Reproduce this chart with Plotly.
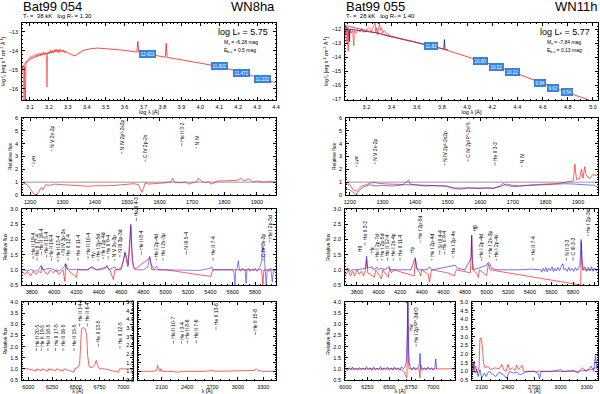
import plotly.graph_objects as go

# ---------------- Bat99 054 (left column) ----------------
sed_l_obs_x = [3.058, 3.062, 3.066, 3.069, 3.072, 3.076, 3.079, 3.083, 3.088, 3.093, 3.098, 3.103, 3.108,
               3.113, 3.118, 3.123, 3.128, 3.133, 3.138, 3.143, 3.148, 3.153, 3.158, 3.163, 3.168, 3.173,
               3.178, 3.183, 3.187, 3.190, 3.193, 3.198, 3.203, 3.208, 3.213, 3.218, 3.223, 3.228, 3.233,
               3.238, 3.243, 3.248, 3.253, 3.258, 3.263, 3.268, 3.273, 3.278, 3.283, 3.288]
sed_l_obs_y = [-15.1, -14.8, -15.4, -16.6, -14.8, -16.6, -14.6, -14.55, -14.45, -14.4, -14.42, -14.3, -14.35,
               -14.25, -14.3, -14.2, -14.25, -14.15, -14.3, -14.15, -14.2, -14.1, -14.25, -14.1, -14.15, -14.05,
               -14.2, -14.1, -14.3, -15.9, -14.1, -14.05, -14.15, -13.95, -14.1, -14.0, -14.1, -13.92, -14.05,
               -13.9, -14.05, -13.95, -14.1, -13.9, -14.0, -14.05, -13.95, -14.0, -14.1, -14.0]
sed_l_mod_x = [3.058, 3.07, 3.10, 3.13, 3.16, 3.20, 3.24, 3.28, 3.30, 3.32, 3.34, 3.36, 3.38, 3.42, 3.46,
               3.50, 3.55, 3.60, 3.65, 3.665, 3.67, 3.675, 3.70, 3.75, 3.80, 3.815, 3.82, 3.825, 3.85,
               3.90, 3.95, 4.00, 4.10, 4.20, 4.30, 4.40]
sed_l_mod_y = [-14.95, -14.7, -14.45, -14.3, -14.2, -14.1, -14.0, -14.0, -14.1, -14.2, -14.25, -14.1, -13.98,
               -13.88, -13.85, -13.88, -13.92, -13.97, -14.04, -14.06, -13.5, -14.07, -14.12, -14.2, -14.3,
               -14.33, -13.6, -14.34, -14.38, -14.47, -14.55, -14.63, -14.82, -15.08, -15.37, -15.68]
phot_l_x = [3.72, 4.10, 4.22, 4.33]
phot_l_y = [-14.16, -14.79, -15.14, -15.49]
phot_l_txt = ["12.423", "11.802", "11.472", "11.232"]

uv_l_x = [1175, 1185, 1195, 1205, 1212, 1220, 1228, 1235, 1240, 1248, 1260, 1275, 1290, 1300, 1320, 1340,
          1360, 1380, 1400, 1420, 1440, 1460, 1480, 1500, 1520, 1535, 1540, 1545, 1550, 1555, 1565, 1580,
          1600, 1620, 1635, 1640, 1645, 1660, 1680, 1690, 1700, 1715, 1720, 1728, 1740, 1750, 1760, 1780,
          1800, 1820, 1840, 1850, 1860, 1875, 1890, 1900, 1920, 1940, 1959]
uv_l_y = [0.8, 0.9, 0.7, 0.3, 0.05, 0.0, 0.3, 0.6, 0.4, 0.8, 0.75, 0.85, 0.82, 0.8, 0.78, 0.75,
          0.7, 0.68, 0.72, 0.7, 0.72, 0.75, 0.8, 0.82, 0.88, 0.8, 0.55, 0.2, 0.5, 0.95, 0.85, 0.9,
          0.92, 0.95, 1.05, 1.3, 1.0, 0.95, 1.0, 0.85, 0.95, 1.05, 1.3, 1.1, 0.95, 1.05, 0.85, 1.1,
          1.1, 1.1, 1.15, 1.3, 1.1, 1.25, 1.0, 1.1, 1.0, 1.05, 1.0]
uv_l_lab_x = [1209, 1267, 1483, 1555, 1668, 1714]
uv_l_lab_t = ["Lyα", "N V 2s-2p", "N IV 2p²-2s2p", "C IV 2p-2s", "He II 3-2", "N IV"]
uv_l_lab_y = [2.2, 3.4, 3.2, 2.6, 3.8, 3.6]

opt_l_mod_x = [3712, 3740, 3760, 3790, 3810, 3840, 3860, 3880, 3890, 3910, 3940, 3965, 3990, 4020, 4040,
               4080, 4095, 4105, 4120, 4200, 4210, 4300, 4340, 4380, 4470, 4500, 4530, 4545, 4600, 4635,
               4660, 4686, 4700, 4720, 4859, 4875, 5000, 5405, 5420, 5860, 5870, 5880, 5988]
opt_l_mod_y = [0.95, 0.85, 0.95, 0.8, 0.95, 0.85, 0.95, 0.9, 1.1, 0.95, 0.85, 1.0, 0.9, 1.0, 0.85,
               1.0, 0.62, 1.2, 1.0, 0.75, 1.0, 1.0, 1.1, 1.0, 1.1, 1.0, 0.68, 1.0, 1.0, 1.55,
               1.1, 2.45, 1.3, 1.0, 1.4, 1.0, 1.0, 0.78, 1.0, 1.0, 0.5, 1.0, 1.0]
opt_l_obs_x = [3712, 3750, 3800, 3830, 3860, 3885, 3895, 3930, 3970, 4000, 4030, 4060, 4090, 4100, 4110,
               4150, 4200, 4250, 4300, 4335, 4345, 4380, 4420, 4460, 4475, 4490, 4520, 4545, 4560, 4600,
               4620, 4635, 4650, 4665, 4678, 4688, 4698, 4710, 4740, 4800, 4840, 4855, 4868, 4890, 4920,
               4935, 5000, 5100, 5200, 5300, 5400, 5412, 5425, 5500, 5600, 5612, 5620, 5628, 5640, 5650,
               5660, 5672, 5685, 5700, 5712, 5720, 5728, 5740, 5755, 5770, 5785, 5800, 5815, 5830, 5845,
               5860, 5870, 5880, 5890, 5900, 5910, 5925, 5940, 5955, 5965, 5980, 5988]
opt_l_obs_y = [1.0, 0.98, 1.0, 0.95, 1.0, 1.15, 1.0, 1.02, 1.05, 1.0, 0.95, 1.0, 1.1, 1.2, 1.05,
               1.0, 1.02, 1.0, 1.0, 1.1, 1.05, 1.0, 1.0, 1.05, 1.15, 1.0, 1.05, 1.1, 1.0, 1.05,
               1.3, 1.6, 1.4, 1.15, 1.8, 2.5, 1.6, 1.1, 1.0, 1.0, 1.1, 1.45, 1.2, 1.02, 1.12,
               1.0, 1.0, 1.0, 1.0, 0.98, 1.05, 1.1, 1.0, 1.0, 1.0, 0.9, 0.5, 1.0, 1.05, 1.3,
               1.0, 0.95, 1.05, 0.98, 1.0, 0.55, 1.0, 1.05, 0.95, 1.02, 0.97, 1.05, 0.95, 1.0, 1.1,
               1.3, 1.8, 1.6, 1.0, 0.5, 1.0, 0.95, 1.05, 0.6, 1.0, 0.95, 1.0]
opt_l_lab_x = [3811, 3847, 3886, 3931, 3976, 4035, 4080, 4125, 4214, 4304, 4349, 4394, 4439, 4484,
               4544, 4589, 4737, 4782, 4916, 4976, 5185, 5424, 5872, 5932]
opt_l_lab_t = ["He II 19-4", "He II 17-4", "He II 16-4", "He II 15-4", "He II 14-4", "He II 13-4",
               "N IV 3p-3s", "He II 12-4", "He II 11-4", "He II 10-4", "Hγ", "He I 2p-5d", "He I 2p-4d",
               "He II 9-4", "N V 3s-3p", "N III 3p-3d", "He II 4-3", "He II 8-4", "He I 2p-4d",
               "He I 2s-3p", "N III 5-4", "He II 7-4", "C IV 3s-3p", "He I 2p-3d"]
opt_l_lab_y = [1.35, 1.3, 1.5, 1.4, 1.3, 1.25, 1.45, 1.3, 1.3, 1.35, 1.3, 1.3, 1.35, 1.35,
               1.3, 1.4, 2.6, 1.5, 1.3, 1.3, 1.5, 1.3, 1.3, 1.9]

bla_x = [5934, 6000, 6084, 6090, 6137, 6145, 6207, 6215, 6287, 6295, 6365, 6375, 6481, 6490, 6520,
         6540, 6550, 6560, 6580, 6600, 6615, 6625, 6640, 6670, 6700, 6715, 6730, 6750, 6800, 6950,
         6960, 7102]
bla_y = [1.0, 1.0, 0.9, 1.0, 0.92, 1.0, 0.9, 1.0, 0.92, 1.0, 0.9, 1.0, 0.85, 1.02, 1.05,
         1.2, 2.0, 2.8, 2.85, 2.8, 2.5, 1.6, 1.1, 1.05, 1.2, 1.38, 1.15, 1.0, 1.0, 0.85,
         1.0, 1.0]
bla_lab_x = [6084, 6137, 6207, 6287, 6365, 6481, 6540, 6621, 6737, 6965]
bla_lab_t = ["He II 20-5", "He II 19-5", "He II 18-5", "He II 17-5", "He II 16-5", "He II 15-5",
             "He II 14-5", "He II 6-4", "He II 13-5", "He II 12-5"]
bla_lab_y = [1.8, 1.8, 1.8, 1.8, 1.8, 1.8, 2.9, 2.9, 2.0, 1.9]

blb_x = [1820, 1900, 2000, 2040, 2050, 2060, 2068, 2080, 2090, 2100, 2200, 2300, 2320, 2600, 2710,
         2720, 3190, 3220, 3240, 3300, 3450]
blb_y = [1.0, 1.0, 1.0, 1.05, 1.35, 1.2, 1.1, 1.0, 1.15, 1.0, 1.0, 0.95, 1.0, 1.0, 1.05,
         1.0, 1.05, 1.15, 1.05, 1.0, 1.0]
blb_lab_x = [2240, 2333, 2403, 2508, 2741, 3207]
blb_lab_t = ["He II 10-7", "He I 3-4", "He II 8-6", "He II 7-6", "He II 13-8", "He II 15-8"]
blb_lab_y = [2.6, 2.6, 2.6, 2.6, 3.4, 3.1]

# ---------------- Bat99 055 (right column) ----------------
sed_r_obs_x = [3.030, 3.035, 3.040, 3.045, 3.050, 3.055, 3.060, 3.065, 3.070, 3.080, 3.090, 3.100, 3.105,
               3.120, 3.130, 3.150, 3.160, 3.180, 3.200, 3.220, 3.240, 3.260, 3.270, 3.275, 3.280, 3.290,
               3.300, 3.305, 3.310, 3.320, 3.330, 3.340, 3.360, 3.380, 3.400, 3.420]
sed_r_obs_y = [-11.9, -12.4, -11.9, -13.0, -12.0, -13.6, -12.1, -12.6, -12.0, -12.3, -12.1, -13.2, -12.1,
               -12.3, -12.05, -12.2, -11.95, -12.25, -12.05, -11.9, -12.15, -11.8, -11.55, -12.2, -11.9, -12.4,
               -11.95, -11.55, -12.1, -11.9, -12.3, -12.1, -12.35, -12.4, -12.55, -12.5]
sed_r_nav_x = [3.03, 3.06, 3.065, 3.07, 3.10, 3.15, 3.20, 3.25, 3.30, 3.35, 3.40, 3.45, 3.50, 3.55, 3.60,
               3.65, 3.70, 3.75, 3.80, 3.815, 3.82, 3.825, 3.85]
sed_r_nav_y = [-11.85, -11.95, -12.9, -12.0, -12.05, -12.1, -12.15, -12.2, -12.3, -12.45, -12.55, -12.65,
               -12.75, -12.85, -12.95, -13.05, -13.2, -13.3, -13.4, -13.45, -12.75, -13.45, -13.5]
sed_r_mod_x = [3.03, 3.2, 3.4, 3.6, 3.8, 4.0, 4.2, 4.4, 4.6, 4.8, 4.97]
sed_r_mod_y = [-11.75, -12.1, -12.55, -12.95, -13.4, -13.95, -14.55, -15.2, -15.9, -16.55, -17.07]
phot_r_x = [3.716, 4.11, 4.23, 4.36, 4.58, 4.68, 4.79]
phot_r_y = [-13.19, -14.26, -14.69, -15.09, -15.84, -16.19, -16.52]
phot_r_txt = ["11.82", "10.80", "10.52", "10.22", "9.84", "9.62", "9.54"]

uv_r_x = [1188, 1200, 1210, 1220, 1235, 1250, 1270, 1290, 1320, 1350, 1380, 1400, 1450, 1480, 1500,
          1520, 1550, 1580, 1600, 1620, 1640, 1660, 1680, 1700, 1720, 1750, 1780, 1800, 1840, 1870,
          1885, 1890, 1895, 1905, 1910, 1915, 1920, 1925, 1935, 1945, 1955, 1961]
uv_r_y = [0.9, 0.8, 0.4, 0.3, 0.7, 0.8, 1.0, 0.9, 0.85, 0.82, 0.78, 0.75, 0.72, 0.7, 0.7,
          0.55, 0.55, 0.6, 0.55, 0.6, 0.55, 0.65, 0.85, 0.75, 0.7, 0.78, 0.8, 0.85, 0.9, 1.0,
          1.1, 2.4, 1.2, 1.3, 2.0, 1.3, 2.2, 1.5, 1.3, 1.6, 1.5, 1.6]
uv_r_bx = [1188, 1200, 1210, 1220, 1230, 1240, 1260, 1280, 1300, 1330, 1360, 1380, 1385, 1400, 1430,
           1460, 1490, 1520, 1540, 1560, 1580, 1600, 1620, 1640, 1660, 1670, 1680, 1700, 1720, 1750,
           1780, 1800, 1830, 1860, 1890, 1920, 1950, 1961]
uv_r_by = [0.5, 0.4, 0.2, 0.05, 0.4, 0.6, 0.8, 0.7, 0.75, 0.7, 0.78, 1.15, 0.85, 0.8, 0.7,
           0.72, 0.7, 0.5, 0.45, 0.55, 0.5, 0.5, 0.55, 0.5, 0.7, 0.9, 0.75, 0.65, 0.7, 0.75,
           0.8, 0.82, 0.85, 0.88, 0.85, 0.8, 0.75, 0.6]
uv_r_lab_x = [1220, 1277, 1491, 1562, 1645, 1727]
uv_r_lab_t = ["Lyα", "N V 2s-2p", "N IV 2p²-2s2p", "C IV 2p²P°-2s²S", "He II 3-2", "N IV"]
uv_r_lab_y = [2.2, 2.4, 2.3, 2.6, 2.3, 2.2]

opt_r_mod_x = [3690, 3700, 3720, 3740, 3760, 3780, 3800, 3820, 3840, 3860, 3880, 3890, 3900, 3930, 3960,
               3975, 4010, 4026, 4040, 4090, 4102, 4120, 4140, 4330, 4340, 4360, 4380, 4390, 4400, 4460,
               4471, 4490, 4640, 4700, 4720, 4850, 4861, 4870, 4915, 4922, 4935, 5000, 5016, 5030, 5870,
               5876, 5885, 6030]
opt_r_mod_y = [0.95, 0.85, 1.0, 0.8, 0.95, 0.8, 1.0, 0.85, 0.95, 0.8, 1.0, 1.35, 0.9, 0.85, 0.75,
               1.0, 0.8, 0.7, 1.0, 0.75, 1.05, 0.9, 1.0, 0.8, 1.35, 1.0, 0.9, 0.8, 1.0, 0.85,
               0.6, 1.0, 0.9, 0.8, 1.0, 0.9, 2.1, 1.0, 0.85, 0.75, 1.0, 0.8, 1.2, 1.0, 0.5,
               1.9, 1.0, 1.0]
opt_r_obs_x = [3690, 3720, 3740, 3760, 3800, 3850, 3880, 3890, 3898, 3940, 3950, 3990, 4000, 4030, 4060,
               4090, 4100, 4110, 4200, 4300, 4340, 4350, 4380, 4450, 4470, 4480, 4500, 4640, 4710, 4730,
               4800, 4858, 4862, 4868, 4880, 4920, 5000, 5016, 5030, 5045, 5100, 5300, 5411, 5500, 5510,
               5522, 5535, 5548, 5560, 5575, 5590, 5605, 5618, 5632, 5645, 5660, 5675, 5690, 5705, 5715,
               5730, 5745, 5760, 5775, 5790, 5805, 5820, 5835, 5850, 5862, 5874, 5882, 5895, 5910, 5925,
               5940, 5955, 5970, 5985, 6000, 6015, 6030]
opt_r_obs_y = [1.0, 1.05, 0.95, 1.0, 1.0, 1.02, 1.05, 1.45, 1.05, 1.1, 1.0, 1.08, 1.0, 1.05, 1.0,
               1.08, 1.1, 1.0, 1.0, 1.0, 1.4, 1.05, 1.0, 1.0, 1.1, 1.05, 1.0, 1.1, 1.15, 1.05,
               1.0, 1.4, 2.15, 1.3, 1.0, 1.05, 1.15, 1.25, 1.2, 1.05, 1.0, 1.0, 1.02, 1.0, 0.92,
               1.05, 0.95, 1.08, 0.93, 1.05, 0.97, 1.1, 0.94, 1.05, 0.96, 1.08, 0.97, 1.1, 1.2, 1.0,
               1.05, 0.95, 1.08, 0.97, 1.05, 0.95, 1.07, 0.98, 1.08, 1.1, 2.0, 1.3, 1.0, 1.1, 0.95,
               1.08, 0.96, 1.1, 0.95, 1.05, 0.97, 1.05]
opt_r_lab_x = [3829, 3875, 3937, 3989, 4030, 4082, 4137, 4199, 4308, 4385, 4493, 4566, 4612, 4689,
               4890, 4952, 5028, 5090, 5429, 5737, 5799, 5938]
opt_r_lab_t = ["H9", "He II 3-2", "Hε", "He I 2p-7d", "He I 2p-5d", "He II 12-4", "He I 2s-4p",
               "He II 11-4", "Hγ", "He I 2p-5d", "He I 2p-4d", "Si III 4-4", "He II 9-4", "He I 2p-4s",
               "Hβ", "He I 2p-4d", "He I 2s-3p", "He I 2p-4s", "He II 7-4", "N II 3-3", "C III 3-3",
               "He I 2p-3d"]
opt_r_lab_y = [1.5, 1.8, 1.5, 1.3, 1.3, 1.3, 1.3, 1.3, 1.5, 1.9, 1.3, 1.5, 1.5, 1.4,
               2.2, 1.3, 1.4, 1.3, 1.3, 1.3, 1.3, 2.1]

bra_bx = [6000, 6020, 6040, 6060, 6080, 6100, 6120, 6140, 6160, 6180, 6200, 6220, 6240, 6260, 6280,
          6300, 6320, 6340, 6360, 6380, 6400, 6420, 6440, 6460, 6480, 6500, 6520, 6540, 6560, 6580,
          6600, 6620, 6640, 6660, 6680, 6695, 6705, 6712, 6720, 6730, 6745, 6760, 6780, 6800, 6820,
          6840, 6852, 6860, 6880, 6900, 6920, 6940, 6960, 6980, 7000, 7020, 7030, 7040]
bra_by = [1.0, 0.92, 1.05, 0.95, 1.08, 0.94, 1.03, 0.93, 1.06, 0.96, 1.05, 0.95, 1.1, 0.97, 1.05,
          0.93, 1.08, 0.95, 1.04, 0.96, 1.1, 0.94, 1.05, 0.97, 1.08, 0.95, 1.05, 0.94, 1.08, 0.96,
          1.05, 0.95, 1.1, 1.0, 1.1, 1.3, 2.6, 4.2, 2.0, 1.2, 1.05, 0.95, 1.08, 0.96, 1.05,
          1.1, 1.7, 1.0, 0.95, 1.05, 0.95, 1.08, 0.97, 1.05, 0.95, 1.05, 1.45, 1.0]
bra_rx = [6000, 6600, 6650, 6670, 6690, 6700, 6706, 6712, 6718, 6725, 6760, 6840, 6850, 6858, 6870, 7250]
bra_ry = [1.0, 1.0, 0.95, 0.85, 0.65, 0.6, 1.5, 4.2, 1.5, 1.0, 1.0, 1.0, 0.6, 1.2, 1.0, 1.0]
bra_lab_x = [6750, 6807]
bra_lab_t = ["Hα", "He I 2p³P°-3d³D"]
bra_lab_y = [2.6, 2.0]

brb_rx = [1989, 2000, 2010, 2030, 2050, 2070, 2080, 2095, 2110, 2120, 2140, 2170, 2200, 2250, 2300,
          2330, 2350, 2380, 2400, 2420, 2450, 2480, 2500, 2520, 2560, 2580, 2700, 2900, 3000, 3020,
          3200, 3300, 3350, 3400, 3429]
brb_ry = [1.0, 1.5, 1.1, 1.3, 0.9, 1.3, 2.9, 2.9, 2.3, 1.5, 1.2, 1.3, 1.1, 1.2, 1.15,
          1.4, 1.1, 1.0, 1.4, 1.1, 1.2, 1.05, 1.35, 1.1, 1.35, 1.0, 1.0, 1.0, 1.1, 1.0,
          1.0, 1.05, 1.1, 1.2, 1.1]
brb_bx = [1989, 2000, 2015, 2025, 2040, 2060, 2080, 2100, 2130, 2150, 2180, 2220, 2260, 2300, 2350,
          2380, 2420, 2460, 2500, 2540, 2600, 2650, 2700, 2750, 2760, 2780, 2850, 2950, 3050, 3150,
          3200, 3250, 3300, 3350, 3380, 3400, 3415, 3429]
brb_by = [0.8, 1.0, 1.6, 0.9, 1.1, 0.7, 1.1, 0.6, 0.9, 0.7, 1.0, 0.85, 0.7, 0.95, 0.8,
          0.6, 1.0, 0.9, 0.95, 0.8, 0.95, 1.0, 1.0, 0.85, 0.55, 1.0, 1.0, 0.98, 1.0, 1.05,
          0.9, 1.2, 1.0, 1.3, 1.0, 1.9, 1.2, 1.4]

# ---------------- figure ----------------
W, H = 600, 394
FONT = "Liberation Sans, Arial, sans-serif"
RED = "#ff1a1a"
BLUE = "#1010ee"


def dom_x(a, b):
    return [a / W, b / W]


def dom_y(top, bot):
    return [1 - bot / H, 1 - top / H]


fig = go.Figure()


def set_axes(n, xd, yd, xr, yr, xdt, ydt, xtitle=None, ytitle=None, xfmt=None, yfmt=None, xtv=None):
    s = "" if n == 1 else str(n)
    common = dict(showline=True, linecolor="black", linewidth=0.8, mirror="allticks", ticks="inside",
                  ticklen=3, tickwidth=0.6, tickcolor="black", showgrid=False, zeroline=False,
                  automargin=False, tickfont=dict(size=5.5, color="black", family=FONT),
                  minor=dict(ticks="inside", ticklen=1.5, tickwidth=0.5, tickcolor="black"))
    xa = dict(common, domain=xd, range=xr, anchor="y" + s, ticklabelstandoff=1)
    if xtv is not None:
        xa.update(tickvals=xtv)
    else:
        xa.update(dtick=xdt)
    if xfmt:
        xa["tickformat"] = xfmt
    if xtitle:
        xa["title"] = dict(text=xtitle, font=dict(size=5.5, family=FONT), standoff=0)
    ya = dict(common, domain=yd, range=yr, dtick=ydt, anchor="x" + s, ticklabelstandoff=2)
    if yfmt:
        ya["tickformat"] = yfmt
    if ytitle:
        ya["title"] = dict(text=ytitle, font=dict(size=5, family=FONT), standoff=2)
    fig.layout["xaxis" + s] = xa
    fig.layout["yaxis" + s] = ya


def line(n, x, y, color, width=0.7, opacity=1.0):
    s = "" if n == 1 else str(n)
    fig.add_trace(go.Scatter(x=x, y=y, mode="lines", line=dict(color=color, width=width),
                             opacity=opacity, xaxis="x" + s, yaxis="y" + s, showlegend=False,
                             hoverinfo="skip"))


def unity(n):
    s = "" if n == 1 else str(n)
    fig.add_shape(type="line", xref="x" + s + " domain", yref="y" + s, x0=0, x1=1, y0=1, y1=1,
                  line=dict(color="#555555", width=0.6))


def vlabels(n, xs, texts, ys, size=5, gap=3):
    s = "" if n == 1 else str(n)
    for x, t, y in zip(xs, texts, ys):
        L = len(t) * size * 0.5
        fig.add_annotation(x=x, y=y, xref="x" + s, yref="y" + s, text=t, textangle=-90,
                           showarrow=True, arrowhead=0, arrowwidth=0.5, arrowcolor="black",
                           ax=0, ay=-(L / 2 + gap), font=dict(size=size, color="black", family=FONT))


def phot(n, xs, ys, texts):
    s = "" if n == 1 else str(n)
    for x, y, t in zip(xs, ys, texts):
        fig.add_annotation(x=x, y=y, xref="x" + s, yref="y" + s, text=t, showarrow=False,
                           bgcolor="#2f86e8", bordercolor="#1a5fc0", borderwidth=0.5, borderpad=1,
                           font=dict(size=4.5, color="white", family=FONT))


LAM_LOG = "log λ [Å]"
LAM = "λ [Å]"
FLUX = "log f<sub>λ</sub> [erg s<sup>-1</sup> cm<sup>-2</sup> Å<sup>-1</sup>]"
REL = "Relative flux"
TV_IR = [2100, 2400, 2700, 3000, 3300]
TV_HA = [6000, 6250, 6500, 6750, 7000]

# axes: 1-5 left column, 6-10 right column
set_axes(1, dom_x(22, 276), dom_y(23, 100), [3.058, 4.4], [-16.58, -12.53], 0.1, 1, LAM_LOG, FLUX, ".1f")
set_axes(2, dom_x(22, 276), dom_y(118, 195), [1175, 1959], [0, 6], 100, 1, None, REL)
set_axes(3, dom_x(22, 276), dom_y(209, 285), [3712, 5988], [0.5, 3.0], 200, 0.5, None, REL, None, ".1f")
set_axes(4, dom_x(22, 133), dom_y(302, 380), [5934, 7102], [0.5, 4.0], None, 0.5, LAM, REL, None, ".1f",
         xtv=TV_HA)
set_axes(5, dom_x(138, 276), dom_y(302, 380), [1820, 3450], [0.5, 5.0], None, 0.5, LAM, None, None, ".1f",
         xtv=TV_IR)
set_axes(6, dom_x(345, 598), dom_y(23, 100), [3.03, 5.04], [-17.07, -11.57], 0.2, 1, LAM_LOG, FLUX, ".1f")
set_axes(7, dom_x(346, 598), dom_y(118, 195), [1188, 1961], [0, 6], 100, 1, None, REL)
set_axes(8, dom_x(345, 598), dom_y(209, 285), [3690, 6030], [0.5, 3.0], 200, 0.5, None, REL, None, ".1f")
set_axes(9, dom_x(345, 455), dom_y(302, 380), [5995, 7250], [0.5, 4.0], None, 0.5, LAM, REL, None, ".1f",
         xtv=TV_HA)
set_axes(10, dom_x(472, 598), dom_y(302, 380), [1989, 3429], [0.5, 5.0], None, 0.5, LAM, None, None, ".1f",
         xtv=TV_IR)

# left column traces
line(1, sed_l_obs_x, sed_l_obs_y, RED, 0.6)
line(1, sed_l_mod_x, sed_l_mod_y, RED, 0.8)
phot(1, phot_l_x, phot_l_y, phot_l_txt)
unity(2)
line(2, uv_l_x, uv_l_y, RED)
vlabels(2, uv_l_lab_x, uv_l_lab_t, uv_l_lab_y)
line(3, opt_l_mod_x, opt_l_mod_y, RED)
line(3, opt_l_obs_x, opt_l_obs_y, BLUE, 0.7, 0.75)
vlabels(3, opt_l_lab_x, opt_l_lab_t, opt_l_lab_y)
line(4, bla_x, bla_y, RED)
vlabels(4, bla_lab_x, bla_lab_t, bla_lab_y)
line(5, blb_x, blb_y, RED)
vlabels(5, blb_lab_x, blb_lab_t, blb_lab_y)

# right column traces
line(6, sed_r_obs_x, sed_r_obs_y, RED, 0.6)
line(6, sed_r_nav_x, sed_r_nav_y, "#1a1a80", 0.8)
line(6, sed_r_mod_x, sed_r_mod_y, RED, 0.8)
phot(6, phot_r_x, phot_r_y, phot_r_txt)
unity(7)
line(7, uv_r_x, uv_r_y, RED)
line(7, uv_r_bx, uv_r_by, BLUE, 0.7, 0.8)
vlabels(7, uv_r_lab_x, uv_r_lab_t, uv_r_lab_y)
line(8, opt_r_mod_x, opt_r_mod_y, RED)
line(8, opt_r_obs_x, opt_r_obs_y, BLUE, 0.7, 0.85)
vlabels(8, opt_r_lab_x, opt_r_lab_t, opt_r_lab_y)
line(9, bra_rx, bra_ry, RED)
line(9, bra_bx, bra_by, BLUE, 0.7, 0.85)
vlabels(9, bra_lab_x, bra_lab_t, bra_lab_y)
line(10, brb_rx, brb_ry, RED)
line(10, brb_bx, brb_by, BLUE, 0.7, 0.85)

# headers and stellar parameters
headers = [
    (22, 276, "Bat99 054", "WN8ha", "T<sub>*</sub> =  38 kK   log R<sub>*</sub> = 1.30",
     "log L<sub>*</sub> = 5.75", "M<sub>v</sub> = -6.28 mag", "E<sub>b-v</sub> = 0.5 mag", 222),
    (345, 598, "Bat99 055", "WN11h", "T<sub>*</sub> =  28 kK   log R<sub>*</sub> = 1.40",
     "log L<sub>*</sub> = 5.77", "M<sub>v</sub> = -7.84 mag", "E<sub>b-v</sub> = 0.13 mag", 545),
]
for x0, x1, name, sp, sub, lum, mv, ebv, xp in headers:
    fig.add_annotation(x=x0 / W, y=1 - 7 / H, xref="paper", yref="paper", text=name, showarrow=False,
                       xanchor="left", yanchor="middle", borderpad=0,
                       font=dict(size=13, family=FONT, color="black"))
    fig.add_annotation(x=x1 / W, y=1 - 7 / H, xref="paper", yref="paper", text=sp, showarrow=False,
                       xanchor="right", yanchor="middle", borderpad=0,
                       font=dict(size=13, family=FONT, color="black"))
    fig.add_annotation(x=x0 / W, y=1 - 16.5 / H, xref="paper", yref="paper", text=sub, showarrow=False,
                       xanchor="left", yanchor="middle", borderpad=0,
                       font=dict(size=6, family=FONT, color="black"))
    fig.add_annotation(x=(x1 - 6) / W, y=1 - 32 / H, xref="paper", yref="paper", text=lum, showarrow=False,
                       xanchor="right", yanchor="middle", font=dict(size=9, family=FONT, color="black"))
    fig.add_annotation(x=xp / W, y=1 - 42.5 / H, xref="paper", yref="paper", text=mv, showarrow=False,
                       xanchor="left", yanchor="middle", font=dict(size=5, family=FONT, color="black"))
    fig.add_annotation(x=xp / W, y=1 - 50.5 / H, xref="paper", yref="paper", text=ebv, showarrow=False,
                       xanchor="left", yanchor="middle", font=dict(size=5, family=FONT, color="black"))

fig.update_layout(width=W, height=H, margin=dict(l=0, r=0, t=0, b=0, autoexpand=False),
                  paper_bgcolor="white", plot_bgcolor="white",
                  font=dict(family=FONT, color="black"), showlegend=False)

# the page body has a default 8px margin; remove it so the figure fills the window
fig.write_html("out.html", config={"displayModeBar": False},
               post_script="document.body.style.margin='0';")
